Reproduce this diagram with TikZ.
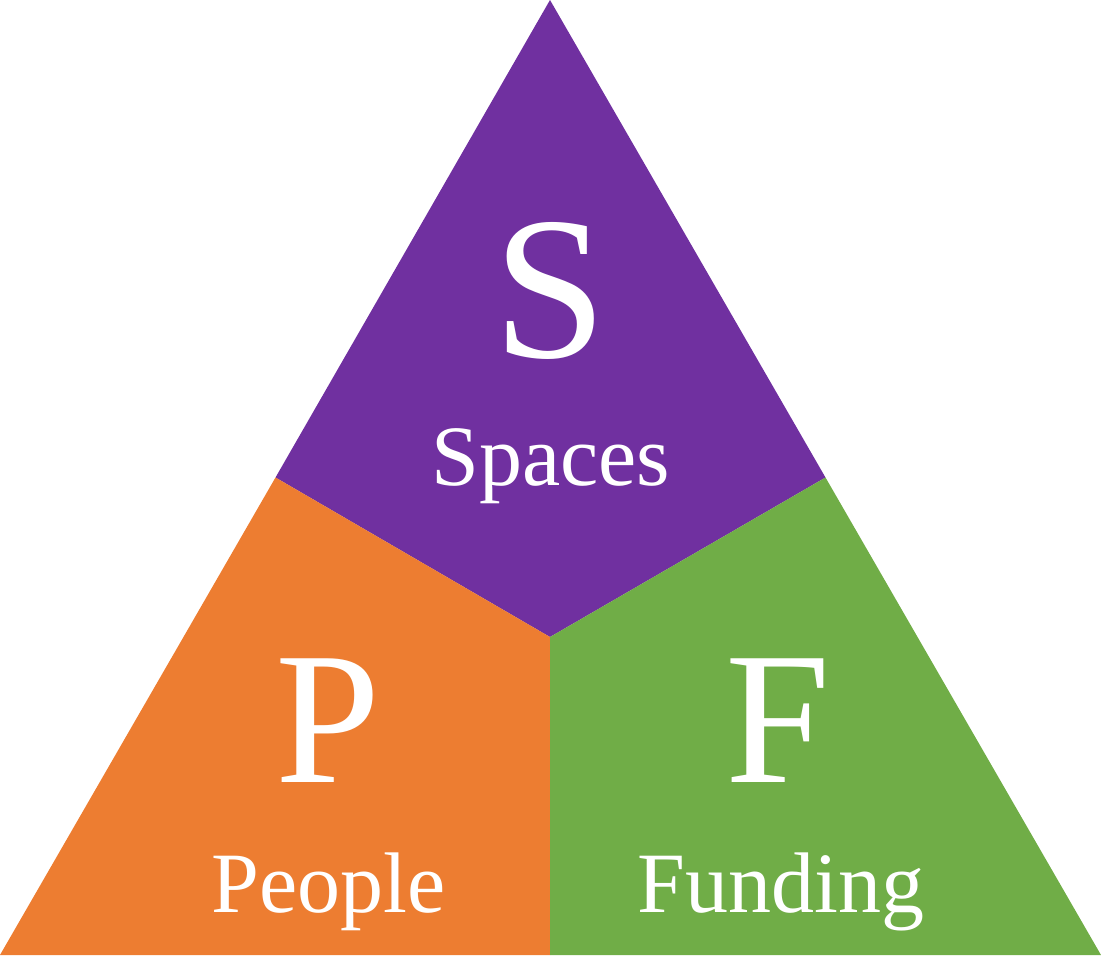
\documentclass[tikz,border=0pt]{standalone}
\usepackage{fontspec}
\setmainfont{Liberation Serif}
\definecolor{spacespurple}{HTML}{7030A0}
\definecolor{peopleorange}{HTML}{ED7D31}
\definecolor{fundinggreen}{HTML}{70AD47}
\begin{document}
\begin{tikzpicture}[x=1pt,y=-1pt,
  big/.style={text=white,anchor=base,inner sep=0pt,font=\fontsize{204}{204}\selectfont},
  small/.style={text=white,anchor=base,inner sep=0pt,font=\fontsize{86}{86}\selectfont}]
  \useasboundingbox (0,0) rectangle (1101,959);
  % corners, side midpoints and centre of the triangle
  \coordinate (apex) at (550,0);
  \coordinate (bl) at (0,955);
  \coordinate (br) at (1101,955);
  \coordinate (ml) at (275.5,477.5);
  \coordinate (mr) at (825.5,477.5);
  \coordinate (mc) at (550,637);
  \coordinate (bc) at (550,955);
  % three sectors
  \fill[spacespurple] (apex) -- (mr) -- (mc) -- (ml) -- cycle;
  \fill[peopleorange] (ml) -- (mc) -- (bc) -- (bl) -- cycle;
  \fill[fundinggreen] (mc) -- (mr) -- (br) -- (bc) -- cycle;
  % labels
  \node[big] (s) at (550,357) {S};
  \node[small] (spaces) at (551,485) {Spaces};
  \node[big,font=\fontsize{189}{189}\selectfont] (p) at (328,782) {P};
  \node[small] (people) at (329,912) {People};
  \node[big,font=\fontsize{189}{189}\selectfont] (f) at (778,782) {F};
  \node[small] (funding) at (781,912) {Funding};
\end{tikzpicture}
\end{document}
